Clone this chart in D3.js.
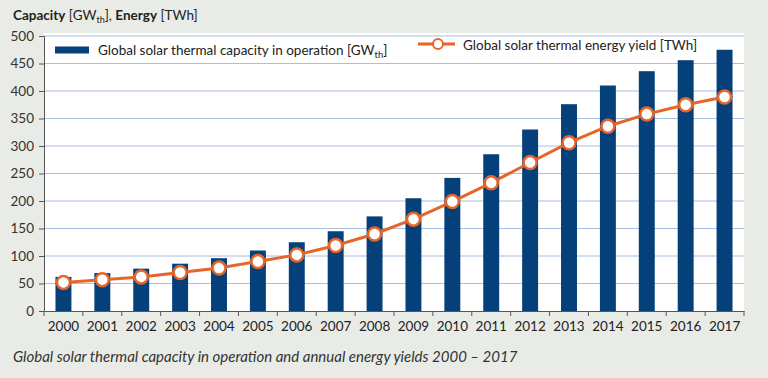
<!DOCTYPE html>
<html><head><meta charset="utf-8">
<script src="https://cdn.jsdelivr.net/npm/d3@7"></script>
<style>
html,body{margin:0;padding:0;background:#e9ece6;}
svg{display:block;font-family:Lato, "Open Sans", sans-serif;}
</style></head>
<body>
<svg id="c" width="768" height="378"></svg>
<script>
const years = ["2000","2001","2002","2003","2004","2005","2006","2007","2008","2009","2010","2011","2012","2013","2014","2015","2016","2017"];
const capacity = [62,69,77,86,96,110,125,145,172,205,242,285,330,376,410,436,456,475];
const energy = [52,57,62,70,78,90,102,119,140,167,199,233,270,306,336,358,375,389];
const yTicks = [0,50,100,150,200,250,300,350,400,450,500];

const svg = d3.select("#c");
const W = 768, H = 378;
const m = {left:44, right:24, top:36, bottom:67};
const x = d3.scaleBand().domain(years).range([m.left, W - m.right]).paddingInner(0.59).paddingOuter(0.295);
const xb = d3.scaleBand().domain(years).range([m.left, W - m.right]);
const y = d3.scaleLinear().domain([0,500]).range([H - m.bottom, m.top]);

svg.append("rect").attr("width",W).attr("height",H).attr("fill","#e9ece6");
svg.append("rect").attr("x",m.left).attr("y",m.top-3).attr("width",W-m.right-m.left).attr("height",H-m.bottom-m.top+3).attr("fill","#fff");

// grid
svg.append("g").selectAll("line").data(yTicks.filter(d=>d>0)).join("line")
  .attr("x1",m.left).attr("x2",W-m.right).attr("y1",d=>y(d)).attr("y2",d=>y(d))
  .attr("stroke","#a7bfe0").attr("stroke-width",1);

// bars
svg.append("g").selectAll("rect").data(years).join("rect")
  .attr("x",d=>x(d)).attr("width",x.bandwidth())
  .attr("y",(d,i)=>y(capacity[i])).attr("height",(d,i)=>y(0)-y(capacity[i]))
  .attr("fill","#05407a");

// line
const line = d3.line().x((d,i)=>xb(years[i])+xb.bandwidth()/2).y(d=>y(d));
svg.append("path").datum(energy).attr("d",line).attr("fill","none").attr("stroke","#e8652a").attr("stroke-width",3);
svg.append("g").selectAll("circle").data(energy).join("circle")
  .attr("cx",(d,i)=>xb(years[i])+xb.bandwidth()/2).attr("cy",d=>y(d)).attr("r",6.5)
  .attr("fill","#fff").attr("stroke","#e8652a").attr("stroke-width",2.5);

// y axis
const ya = svg.append("g").attr("transform",`translate(${m.left},0)`)
  .call(d3.axisLeft(y).tickValues(yTicks).tickSize(5).tickPadding(5));
ya.select(".domain").attr("stroke","#555");
ya.selectAll(".tick line").attr("stroke","#555");
ya.selectAll("text").attr("font-size",13.5).attr("fill","#333").attr("font-family","Lato, sans-serif");

// x axis
const xa = svg.append("g").attr("transform",`translate(0,${H-m.bottom})`)
  .call(d3.axisBottom(xb).tickSize(0).tickPadding(10));
xa.select(".domain").attr("stroke","#555");
xa.selectAll("text").attr("font-size",13.5).attr("fill","#222").attr("font-family","Lato, sans-serif");
svg.append("g").selectAll("line").data(d3.range(years.length+1)).join("line")
  .attr("x1",i=>m.left + i*xb.step()).attr("x2",i=>m.left + i*xb.step())
  .attr("y1",H-m.bottom).attr("y2",H-m.bottom+5).attr("stroke","#555");

// title
const t = svg.append("text").attr("x",13).attr("y",20).attr("font-size",13.5).attr("fill","#222");
t.append("tspan").attr("font-weight","bold").text("Capacity");
t.append("tspan").text(" [GW");
t.append("tspan").attr("font-size",9).attr("dy",3).text("th");
t.append("tspan").attr("dy",-3).text("]");
t.append("tspan").text(", ");
t.append("tspan").attr("font-weight","bold").text("Energy");
t.append("tspan").text(" [TWh]");

// legend
svg.append("rect").attr("x",55).attr("y",46.5).attr("width",34).attr("height",7).attr("fill","#05407a");
const l1 = svg.append("text").attr("x",98).attr("y",55).attr("font-size",13.5).attr("fill","#222");
l1.append("tspan").text("Global solar thermal capacity in operation [GW");
l1.append("tspan").attr("font-size",9.5).attr("dy",3).text("th");
l1.append("tspan").attr("dy",-3).text("]");
svg.append("line").attr("x1",418).attr("x2",455).attr("y1",44).attr("y2",44).attr("stroke","#e8652a").attr("stroke-width",3);
svg.append("circle").attr("cx",438).attr("cy",44).attr("r",5).attr("fill","#fff").attr("stroke","#e8652a").attr("stroke-width",2);
svg.append("text").attr("x",463).attr("y",50).attr("font-size",13.5).attr("fill","#222").text("Global solar thermal energy yield [TWh]");

// caption
svg.append("text").attr("x",13).attr("y",362).attr("font-size",15).attr("font-style","italic").attr("fill","#333")
  .text("Global solar thermal capacity in operation and annual energy yields 2000 – 2017");
</script>
</body></html>
